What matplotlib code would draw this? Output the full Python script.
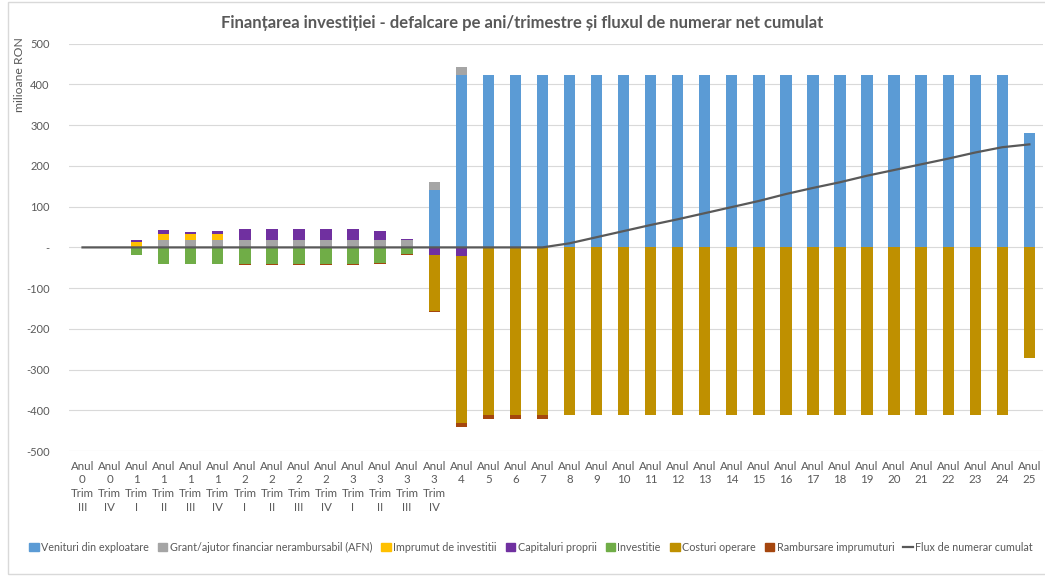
import numpy as np
import matplotlib.pyplot as plt
from matplotlib.patches import Rectangle
from matplotlib.lines import Line2D

plt.rcParams['font.family'] = ['Lato', 'DejaVu Sans']

# categorii: trimestre pana in anul 3, apoi ani
cat_labels = ['Anul\n0\nTrim\nIII', 'Anul\n0\nTrim\nIV',
              'Anul\n1\nTrim\nI', 'Anul\n1\nTrim\nII', 'Anul\n1\nTrim\nIII', 'Anul\n1\nTrim\nIV',
              'Anul\n2\nTrim\nI', 'Anul\n2\nTrim\nII', 'Anul\n2\nTrim\nIII', 'Anul\n2\nTrim\nIV',
              'Anul\n3\nTrim\nI', 'Anul\n3\nTrim\nII', 'Anul\n3\nTrim\nIII', 'Anul\n3\nTrim\nIV'] + \
             ['Anul\n%d\n\n' % y for y in range(4, 26)]

venituri = [0] * 13 + [140] + [424] * 21 + [282]
grant = [0, 0, 0, 19, 19, 19, 19, 19, 19, 19, 19, 19, 19, 20, 19] + [0] * 21
imprumut = [0, 0, 14, 15, 14, 14] + [0] * 30
capital = [0, 0, 3, 8, 6, 7, 25, 25, 25, 25, 25, 21, 2, -19, -22] + [0] * 21
investitie = [0, 0, -18, -42, -41, -42, -42, -42, -42, -42, -42, -38, -17] + [0] * 23
costuri = [0] * 13 + [-137, -410, -412, -412, -412] + [-411] * 17 + [-271]
rambursare = [0] * 6 + [-2] * 7 + [-3, -10, -10, -10, -10] + [0] * 18
flux = [0] * 18 + [10, 25, 40, 55, 69, 84, 99, 114, 131, 146, 160, 176, 190, 204, 218, 233, 246, 253]

series = [
    ('Venituri din exploatare', venituri, '#5B9BD5'),
    ('Grant/ajutor financiar nerambursabil (AFN)', grant, '#A5A5A5'),
    ('Imprumut de investitii', imprumut, '#FFC000'),
    ('Capitaluri proprii', capital, '#7030A0'),
    ('Investitie', investitie, '#70AD47'),
    ('Costuri operare', costuri, '#BF9000'),
    ('Rambursare imprumuturi', rambursare, '#A5460E'),
]

fig = plt.figure(figsize=(10.45, 5.76), dpi=100)
ax = fig.add_axes([0.066, 0.217, 0.932, 0.707])

x = np.arange(len(cat_labels))
pos_bottom = np.zeros(len(x))
neg_bottom = np.zeros(len(x))
handles = []
for name, vals, col in series:
    v = np.array(vals, dtype=float)
    bottom = np.where(v >= 0, pos_bottom, neg_bottom)
    ax.bar(x, v, 0.42, bottom=bottom, color=col, zorder=2)
    pos_bottom += np.where(v > 0, v, 0)
    neg_bottom += np.where(v < 0, v, 0)
    handles.append(Rectangle((0, 0), 1, 1, color=col, label=name))

ax.plot(x, flux, color='#595959', lw=1.6, zorder=3)
handles.append(Line2D([], [], color='#595959', lw=1.6, label='Flux de numerar cumulat'))

ax.set_xlim(-0.5, len(x) - 0.5)
ax.set_ylim(-500, 500)
yt = np.arange(-500, 501, 100)
ax.set_yticks(yt)
ax.set_yticklabels(['-' if t == 0 else str(t) for t in yt], fontsize=8, color='#595959')
ax.set_xticks(x)
ax.set_xticklabels(cat_labels, fontsize=8.3, color='#595959', linespacing=1.3)
ax.tick_params(length=0, pad=7)
ax.tick_params(axis='y', pad=14)
ax.grid(axis='y', color='#D9D9D9', lw=0.8, zorder=0)
for s in ax.spines.values():
    s.set_visible(False)

fig.text(0.019, 0.87, 'milioane RON', rotation=90, fontsize=8.8, color='#595959',
         ha='center', va='center')
fig.text(0.5, 0.96, 'Finanțarea investiției - defalcare pe ani/trimestre și fluxul de numerar net cumulat',
         fontsize=12, fontweight='bold', color='#595959', ha='center', va='center')

fig.legend(handles=handles, loc='center', bbox_to_anchor=(0.508, 0.05), ncol=8, frameon=False,
           fontsize=7.75, handlelength=0.9, handleheight=0.9, handletextpad=0.2, columnspacing=0.85,
           labelcolor='#595959')

fig.patches.append(Rectangle((8 / 1045, 2 / 576), 1.2, 1 - 4 / 576, transform=fig.transFigure,
                             fill=False, edgecolor='#D9D9D9', lw=1))

fig.savefig('out.png', dpi=100)
